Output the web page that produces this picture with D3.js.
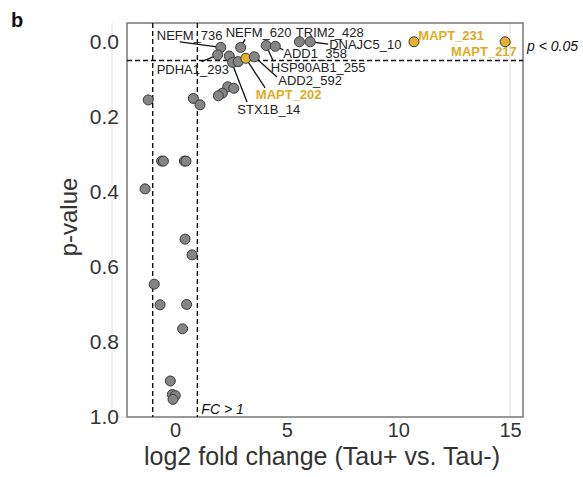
<!DOCTYPE html>
<html><head><meta charset="utf-8">
<script src="https://cdn.jsdelivr.net/npm/d3@7"></script>
<style>body{margin:0;background:#fff}svg{display:block}</style>
</head><body>
<svg id="c" width="583" height="477"></svg>
<script>
// ---- data ----
const genes = ["NEFM_736","NEFM_620","PDHA1_293","STX1B_14","g5","g6","MAPT_202","ADD2_592","HSP90AB1_255","ADD1_358","TRIM2_428","DNAJC5_10","MAPT_231","MAPT_217",
  "g15","g16","g17","g18","g19","g20","g21","g22","g23","g24","g25","g26","g27","g28","g29","g30","g31","g32","g33","g34","g35","g36"];
const log2fc = [2.05,2.94,1.91,2.43,2.58,2.83,3.17,3.55,4.08,4.49,5.57,6.05,10.7,14.78,
  2.36,2.63,2.12,1.94,-1.2,0.82,1.12,-0.6,-0.52,0.42,0.49,-1.34,0.45,0.76,-0.93,-0.67,0.52,0.34,-0.21,-0.12,0.01,-0.09];
const pvalue = [0.015,0.015,0.035,0.038,0.055,0.053,0.044,0.040,0.010,0.012,0.0,0.0,0.0,0.0,
  0.12,0.124,0.137,0.144,0.155,0.151,0.168,0.318,0.318,0.318,0.318,0.392,0.526,0.568,0.646,0.701,0.700,0.765,0.904,0.940,0.943,0.953];
const mapt = ["MAPT_202","MAPT_231","MAPT_217"];
const labelled = ["NEFM_736","NEFM_620","PDHA1_293","STX1B_14","MAPT_202","ADD2_592","HSP90AB1_255","ADD1_358","TRIM2_428","DNAJC5_10","MAPT_231","MAPT_217"];
const xTicks = [0,5,10,15];
const yTicks = [0.0,0.2,0.4,0.6,0.8,1.0];
const fcCut = [-1,1];
const pCut = 0.05;

// label layout: pixel offsets from the point (text x, text y, anchor, segment end)
const labelLayout = {
  "NEFM_736":   {tx:-64, ty:-11.6, a:"start", sx:-41, sy:-5.6},
  "NEFM_620":   {tx:-15, ty:-15,  a:"start", sx:4.3, sy:-8},
  "PDHA1_293":  {tx:-61, ty:15,   a:"start", sx:-16, sy:6.7},
  "ADD1_358":   {tx:8,   ty:7,    a:"start", sx:8, sy:3.7},
  "HSP90AB1_255":{tx:4.7,ty:22,   a:"start", sx:7.3, sy:16},
  "ADD2_592":   {tx:24,  ty:23.3, a:"start", sx:22.7, sy:20.3},
  "MAPT_202":   {tx:10,  ty:36,   a:"start", sx:19.3, sy:29.7},
  "STX1B_14":   {tx:8,   ty:53,   a:"start", sx:17.7, sy:46},
  "TRIM2_428":  {tx:-3.6,ty:-9.6, a:"start", sx:null},
  "DNAJC5_10":  {tx:19,  ty:2.3,  a:"start", sx:18, sy:2.3},
  "MAPT_231":   {tx:4.3, ty:-6.7, a:"start", sx:null},
  "MAPT_217":   {tx:11.7,ty:9.3,  a:"end",   sx:null}
};

const pts = genes.map((g,i)=>({g, x:log2fc[i], p:pvalue[i]}));

const svg = d3.select("#c");
const L=127, R=523, T=23, B=417;
const x = d3.scaleLinear().domain([-2.15,15.58]).range([L,R]);
const y = d3.scaleLinear().domain([-0.05,1.0]).range([T,B]);
const FONT = "'Liberation Sans', Arial, Helvetica, sans-serif";
const YEL = "#E3B12E", YELT = "#DFAB1E";

// faint panel lines
svg.append("line").attr("x1",112).attr("x2",112).attr("y1",T).attr("y2",B).attr("stroke","#e2e2e2").attr("stroke-width",1);
svg.append("line").attr("x1",112).attr("x2",L).attr("y1",B).attr("y2",B).attr("stroke","#e2e2e2").attr("stroke-width",1);
svg.append("line").attr("x1",x(15)).attr("x2",x(15)).attr("y1",T).attr("y2",B).attr("stroke","#e2e2e2").attr("stroke-width",1);

// frame
svg.append("rect").attr("x",L).attr("y",T).attr("width",R-L).attr("height",B-T)
  .attr("fill","none").attr("stroke","#777").attr("stroke-width",1.5);

// axes
const xa = svg.append("g").attr("transform",`translate(0,${B})`)
  .call(d3.axisBottom(x).tickValues(xTicks).tickSize(0).tickPadding(6).tickFormat(d3.format("d")));
xa.select(".domain").remove();
xa.selectAll("text").attr("font-family",FONT).attr("font-size",20).attr("fill","#333");
const ya = svg.append("g").attr("transform",`translate(${L},0)`)
  .call(d3.axisLeft(y).tickValues(yTicks).tickSize(0).tickPadding(8).tickFormat(d3.format(".1f")));
ya.select(".domain").remove();
ya.selectAll("text").attr("font-family",FONT).attr("font-size",21).attr("fill","#333");

// cutoff lines
fcCut.forEach(v=>svg.append("line").attr("x1",x(v)).attr("x2",x(v)).attr("y1",T).attr("y2",B)
  .attr("stroke","#111").attr("stroke-width",1.4).attr("stroke-dasharray","5,3"));
svg.append("line").attr("x1",L).attr("x2",R).attr("y1",y(pCut)).attr("y2",y(pCut))
  .attr("stroke","#111").attr("stroke-width",1.4).attr("stroke-dasharray","5,3");

// segments
pts.filter(d=>labelled.includes(d.g)).forEach(d=>{
  const l = labelLayout[d.g];
  if(l.sx===null) return;
  svg.append("line").attr("x1",x(d.x)).attr("y1",y(d.p)).attr("x2",x(d.x)+l.sx).attr("y2",y(d.p)+l.sy)
    .attr("stroke","#111").attr("stroke-width",1.3);
});

// points
svg.append("g").selectAll("circle").data(pts).join("circle")
  .attr("cx",d=>x(d.x)).attr("cy",d=>y(d.p)).attr("r",5)
  .attr("fill",d=>mapt.includes(d.g)?YEL:"#858585")
  .attr("stroke","#3a3a3a").attr("stroke-width",1);

// labels
pts.filter(d=>labelled.includes(d.g)).forEach(d=>{
  const l = labelLayout[d.g];
  const isM = mapt.includes(d.g);
  svg.append("text").attr("x",x(d.x)+l.tx).attr("y",y(d.p)+l.ty).attr("dy","0.35em")
    .attr("text-anchor",l.a).attr("font-family",FONT).attr("font-size",13)
    .attr("font-weight",isM?"bold":"normal").attr("fill",isM?YELT:"#222").text(d.g);
});

// annotations
svg.append("text").attr("x",527).attr("y",y(pCut)-14).attr("dy","0.35em").attr("font-family",FONT)
  .attr("font-size",14).attr("font-style","italic").attr("fill","#111").text("p < 0.05");
svg.append("text").attr("x",x(fcCut[1])+4).attr("y",409).attr("dy","0.35em").attr("font-family",FONT)
  .attr("font-size",14).attr("font-style","italic").attr("fill","#111").text("FC > 1");

// titles
svg.append("text").attr("x",(L+R)/2 - 3).attr("y",465).attr("text-anchor","middle").attr("font-family",FONT)
  .attr("font-size",25).attr("fill","#333").text("log2 fold change (Tau+ vs. Tau-)");
svg.append("text").attr("transform",`translate(77,${(T+B)/2-3}) rotate(-90)`).attr("text-anchor","middle")
  .attr("font-family",FONT).attr("font-size",24).attr("fill","#333").text("p-value");
svg.append("text").attr("x",11).attr("y",27).attr("font-family",FONT).attr("font-size",20)
  .attr("font-weight","bold").attr("fill","#111").text("b");
</script>
</body></html>
